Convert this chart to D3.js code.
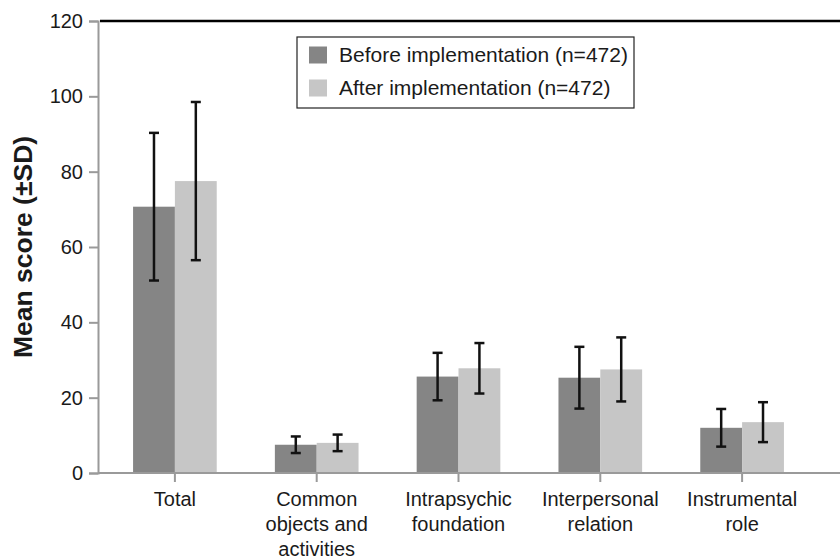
<!DOCTYPE html>
<html lang="en">
<head>
    <meta charset="utf-8">
    <title>Mean score before and after implementation</title>
    <script src="https://cdn.jsdelivr.net/npm/d3@7"></script>
    <style>
        body {
            margin: 0;
            background: #fff;
        }

        svg text {
            font-family: "Liberation Sans", Arial, sans-serif;
            fill: #1a1a1a;
        }
    </style>
</head>
<body>
    <svg id="chart" width="840" height="560"></svg>
    <script>
        'use strict';

        // categories (each label line separately)
        const categories = ["Total", "Common objects and activities", "Intrapsychic foundation",
            "Interpersonal relation", "Instrumental role"];
        const categoryLines = [
            ["Total"],
            ["Common", "objects and", "activities"],
            ["Intrapsychic", "foundation"],
            ["Interpersonal", "relation"],
            ["Instrumental", "role"]
        ];
        const seriesNames = ["Before implementation (n=472)", "After implementation (n=472)"];
        const beforeMean = [70.7, 7.5, 25.6, 25.3, 12.0];
        const beforeSD = [19.6, 2.2, 6.3, 8.2, 5.0];
        const afterMean = [77.5, 8.0, 27.8, 27.5, 13.5];
        const afterSD = [21.0, 2.2, 6.7, 8.5, 5.3];
        const yTicks = [0, 20, 40, 60, 80, 100, 120];

        const colors = ["#858585", "#c6c6c6"];

        const svg = d3.select("#chart");
        const margin = { top: 21, right: 0, bottom: 87, left: 98 };
        const width = 840, height = 560;

        const x = d3.scaleBand()
            .domain(categories)
            .range([104, 813])
            .paddingInner(0.41)
            .paddingOuter(0.205);

        const xs = d3.scaleBand()
            .domain([0, 1])
            .range([0, x.bandwidth()]);

        const y = d3.scaleLinear()
            .domain([0, 120])
            .range([height - margin.bottom, margin.top]);

        // data rows
        const rows = [];
        categories.forEach((c, i) => {
            rows.push({ cat: c, s: 0, mean: beforeMean[i], sd: beforeSD[i] });
            rows.push({ cat: c, s: 1, mean: afterMean[i], sd: afterSD[i] });
        });

        // bars
        svg.append("g")
            .selectAll("rect")
            .data(rows)
            .join("rect")
            .attr("x", d => x(d.cat) + xs(d.s))
            .attr("y", d => y(d.mean))
            .attr("width", xs.bandwidth())
            .attr("height", d => y(0) - y(d.mean))
            .attr("fill", d => colors[d.s]);

        // error bars
        const eb = svg.append("g")
            .attr("stroke", "#111")
            .attr("stroke-width", 2.5)
            .selectAll("g")
            .data(rows)
            .join("g")
            .attr("transform", d => `translate(${x(d.cat) + xs(d.s) + xs.bandwidth() / 2},0)`);
        eb.append("line")
            .attr("y1", d => y(d.mean + d.sd))
            .attr("y2", d => y(d.mean - d.sd));
        eb.append("line")
            .attr("x1", -5).attr("x2", 5)
            .attr("y1", d => y(d.mean + d.sd))
            .attr("y2", d => y(d.mean + d.sd));
        eb.append("line")
            .attr("x1", -5).attr("x2", 5)
            .attr("y1", d => y(d.mean - d.sd))
            .attr("y2", d => y(d.mean - d.sd));

        // top frame line
        svg.append("line")
            .attr("x1", margin.left + 2).attr("x2", width)
            .attr("y1", y(120)).attr("y2", y(120))
            .attr("stroke", "#000")
            .attr("stroke-width", 2.5);

        // y axis
        const yAxis = svg.append("g")
            .attr("transform", `translate(${margin.left},0)`)
            .call(d3.axisLeft(y).tickValues(yTicks).tickSize(9).tickPadding(6));
        yAxis.select(".domain").attr("stroke", "#9a9a9a").attr("stroke-width", 2);
        yAxis.selectAll(".tick line").attr("stroke", "#9a9a9a").attr("stroke-width", 2);
        yAxis.selectAll(".tick text")
            .attr("font-size", 20)
            .attr("font-family", "Liberation Sans, Arial, sans-serif")
            .attr("fill", "#1a1a1a");

        // x axis
        const xAxis = svg.append("g")
            .attr("transform", `translate(0,${y(0)})`)
            .call(d3.axisBottom(x).tickSize(9).tickFormat(""));
        xAxis.select(".domain")
            .attr("d", `M${margin.left},0H${width}`)
            .attr("stroke", "#9a9a9a").attr("stroke-width", 2);
        xAxis.selectAll(".tick line").attr("stroke", "#9a9a9a").attr("stroke-width", 2);

        // multi-line category labels
        svg.append("g")
            .selectAll("text")
            .data(categories)
            .join("text")
            .attr("text-anchor", "middle")
            .attr("font-size", 20)
            .attr("transform", d => `translate(${x(d) + x.bandwidth() / 2},${y(0) + 33})`)
            .selectAll("tspan")
            .data((d, i) => categoryLines[i])
            .join("tspan")
            .attr("x", 0)
            .attr("dy", (d, i) => i === 0 ? 0 : 25)
            .text(d => d);

        // y title
        svg.append("text")
            .attr("transform", `translate(32,247) rotate(-90)`)
            .attr("text-anchor", "middle")
            .attr("font-size", 26.5)
            .attr("font-weight", "bold")
            .text("Mean score (±SD)");

        // legend
        const legend = svg.append("g").attr("transform", "translate(297,37)");
        legend.append("rect")
            .attr("width", 337).attr("height", 71)
            .attr("fill", "#fff")
            .attr("stroke", "#222")
            .attr("stroke-width", 1.2);
        const li = legend.selectAll("g")
            .data(seriesNames)
            .join("g")
            .attr("transform", (d, i) => `translate(12,${18 + i * 33})`);
        li.append("rect")
            .attr("y", -8.5)
            .attr("width", 18).attr("height", 17)
            .attr("fill", (d, i) => colors[i]);
        li.append("text")
            .attr("x", 30)
            .attr("dy", "0.35em")
            .attr("font-size", 21)
            .text(d => d);
    </script>
</body>
</html>
